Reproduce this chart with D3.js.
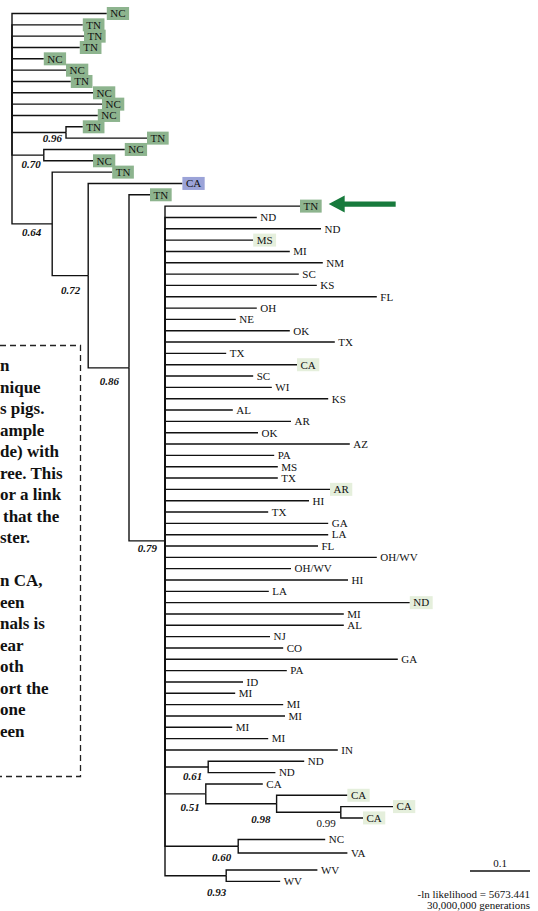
<!DOCTYPE html>
<html>
<head>
<meta charset="utf-8">
<script src="https://cdn.jsdelivr.net/npm/d3@7"></script>
<style>
  html, body { margin: 0; padding: 0; background: #fff; }
  svg { display: block; font-family: "Liberation Serif", "Times New Roman", serif; }
</style>
</head>
<body>
<svg id="chart" width="538" height="911"></svg>
<script>
// ---- Tree data (Newick pieces; branch lengths in substitutions/site, internal labels = posterior support)
const basalTips = "NC:0.158,TN:0.118,TN:0.12,TN:0.113,NC:0.053,NC:0.09,TN:0.098,NC:0.135,NC:0.15,NC:0.143";
const clade096 = "(TN:0.028,TN:0.135)0.96:0.09";
const clade070 = "(NC:0.135,NC:0.082)0.70:0.053";
const crownTipsA = "TN:0.225,ND:0.153,ND:0.26,MS:0.147,MI:0.208,NM:0.263,SC:0.223,KS:0.253,FL:0.353,OH:0.153,NE:0.118,OK:0.208";
const crownTipsB = "TX:0.283,TX:0.102,CA:0.22,SC:0.147,WI:0.178,KS:0.272,AL:0.113,AR:0.21,OK:0.155,AZ:0.308,PA:0.182,MS:0.188,TX:0.188,AR:0.275,HI:0.24";
const crownTipsC = "TX:0.172,GA:0.272,LA:0.272,FL:0.255,OH/WV:0.353,OH/WV:0.21,HI:0.305,LA:0.173,ND:0.408,MI:0.298,AL:0.298,NJ:0.175,CO:0.197,GA:0.388,PA:0.203,ID:0.13,MI:0.117";
const crownTipsD = "MI:0.197,MI:0.2,MI:0.112,MI:0.172,IN:0.288";
const clade061 = "(ND:0.16,ND:0.112)0.61:0.072";
const clade051 = "(CA:0.095,(CA:0.118,(CA:0.087,CA:0.037)0.99:0.107)0.98:0.118)0.51:0.068";
const clade060 = "(NC:0.145,VA:0.182)0.60:0.122";
const clade093 = "(WV:0.152,WV:0.09)0.93:0.102";
const clade079 = `(${crownTipsA},${crownTipsB},${crownTipsC},${crownTipsD},${clade061},${clade051},${clade060},${clade093})0.79:0.06`;
const newick = `(${basalTips},${clade096},${clade070},(TN:0.1,(CA:0.157,(TN:0.035,${clade079})0.86:0.068)0.72:0.06)0.64:0.067);`;

// Tip shading, by leaf order (top to bottom)
const darkTips = [0,1,2,3,4,5,6,7,8,9,10,11,12,13,14,16,17];
const blueTips = [15];
const paleTips = [20,31,42,52,69,70,71];
const arrowTip = 17;

// Note box text (left edge runs off the page)
const noteLines = ["n","nique","s pigs.","ample","de) with","ree. This","or a link"," that the","ster.","","n CA,","een","nals is","ear","oth","ort the","one","een"];

// Run summary
const scaleValue = 0.1;
const likelihoodText = "-ln likelihood = 5673.441";
const generationsText = "30,000,000 generations";

// ---- Layout
const rowStep = 11.33, topY = 13.5, rootX = 12, pxPerUnit = 600;
const rowGaps = {72: 0.9, 73: 0.2, 74: 0.5};
const supportNudge = {"0.96":[-4,9.5],"0.70":[-3,13],"0.64":[-11,12.5],"0.72":[-8,18],"0.86":[-10,17.5],
  "0.79":[-8,11],"0.61":[-6,13],"0.51":[-6,17],"0.98":[-6,19],"0.99":[-5,15],"0.60":[-7,15],"0.93":[0,20]};
const colors = {dark: "#8db48e", blue: "#9ba3d8", pale: "#e5efdc", arrow: "#177a3c", line: "#111"};

function parseNewick(s) {
  let i = 0;
  function node() {
    const n = {};
    if (s[i] === "(") {
      i++;
      n.children = [node()];
      while (s[i] === ",") { i++; n.children.push(node()); }
      i++;
    }
    let name = "";
    while (i < s.length && !":,();".includes(s[i])) name += s[i++];
    n.name = name;
    n.length = 0;
    if (s[i] === ":") {
      i++;
      let num = "";
      while (i < s.length && !",();".includes(s[i])) num += s[i++];
      n.length = +num;
    }
    return n;
  }
  return node();
}

const root = d3.hierarchy(parseNewick(newick));
root.eachBefore(d => { d.dist = (d.parent ? d.parent.dist : 0) + d.data.length; });

const leaves = root.leaves();
let rowAcc = 0;
leaves.forEach((d, i) => { rowAcc += (rowGaps[i] || 0); d.row = i + rowAcc; d.leafIndex = i; });
const maxRow = d3.max(leaves, d => d.row);
const maxDist = d3.max(leaves, d => d.dist);

const x = d3.scaleLinear().domain([0, maxDist]).range([rootX, rootX + maxDist * pxPerUnit]);
const y = d3.scaleLinear().domain([0, maxRow]).range([topY, topY + maxRow * rowStep]);

root.eachAfter(d => {
  if (d.children) {
    d.yPos = (d.children[0].yPos + d.children[d.children.length - 1].yPos) / 2;
  } else {
    d.yPos = y(d.row);
  }
});

const svg = d3.select("#chart");

// Note box
const note = svg.append("g");
note.append("rect")
  .attr("x", -10).attr("y", 345.5).attr("width", 90.5).attr("height", 431)
  .attr("fill", "none").attr("stroke", "#222").attr("stroke-width", 1.3)
  .attr("stroke-dasharray", "6,4");
note.selectAll("text").data(noteLines).join("text")
  .attr("x", (d) => d.startsWith(" ") ? 3 : 0)
  .attr("y", (d, i) => 371 + i * 21.5)
  .attr("font-size", 17).attr("font-weight", "bold").attr("fill", "#111")
  .text(d => d.trim());

// Branches (elbows)
svg.append("g")
  .selectAll("path")
  .data(root.descendants().filter(d => d.parent))
  .join("path")
  .attr("d", d => `M${x(d.parent.dist)},${d.parent.yPos}V${d.yPos}H${x(d.dist)}`)
  .attr("fill", "none").attr("stroke", colors.line).attr("stroke-width", 1.4);

// Tip labels
const shade = i => darkTips.includes(i) ? colors.dark : blueTips.includes(i) ? colors.blue : paleTips.includes(i) ? colors.pale : null;
const tipG = svg.append("g").selectAll("g").data(leaves).join("g")
  .attr("transform", d => `translate(${x(d.dist)},${d.yPos})`);
tipG.each(function (d) {
  const g = d3.select(this);
  const fill = shade(d.leafIndex);
  const rect = fill ? g.append("rect").attr("fill", fill) : null;
  const t = g.append("text").attr("x", 3.5).attr("y", 3.8).attr("font-size", 11).attr("fill", "#111").text(d.data.name);
  if (rect) {
    const w = t.node().getComputedTextLength();
    rect.attr("x", 0).attr("y", -6.5).attr("width", w + 7).attr("height", 13);
  }
  d.labelEnd = x(d.dist) + 3.5 + t.node().getComputedTextLength() + 3.5;
});

// Support values
svg.append("g").selectAll("text")
  .data(root.descendants().filter(d => d.children && d.data.name))
  .join("text")
  .attr("x", d => x(d.dist) + (supportNudge[d.data.name] || [-6, 15])[0])
  .attr("y", d => d.yPos + (supportNudge[d.data.name] || [-6, 15])[1])
  .attr("text-anchor", "end").attr("font-size", 11)
  .attr("font-weight", d => d.data.name === "0.99" ? "normal" : "bold")
  .attr("font-style", d => d.data.name === "0.99" ? "normal" : "italic")
  .attr("fill", "#111")
  .text(d => d.data.name);

// Arrow pointing at the highlighted tip
const at = leaves[arrowTip];
const ax = at.labelEnd + 7, ay = at.yPos - 2;
svg.append("path")
  .attr("d", `M${ax},${ay} L${ax + 16},${ay - 8.5} L${ax + 16},${ay - 2.6} L${ax + 67},${ay - 2.6} L${ax + 67},${ay + 2.6} L${ax + 16},${ay + 2.6} L${ax + 16},${ay + 8.5} Z`)
  .attr("fill", colors.arrow);

// Scale bar and run summary
const barRight = 530, barY = 871;
const barLen = x(scaleValue) - x(0);
svg.append("line")
  .attr("x1", barRight - barLen).attr("x2", barRight).attr("y1", barY).attr("y2", barY)
  .attr("stroke", colors.line).attr("stroke-width", 1.4);
svg.append("text").attr("x", barRight - barLen / 2).attr("y", barY - 4)
  .attr("text-anchor", "middle").attr("font-size", 11).attr("fill", "#111").text(scaleValue);
svg.append("text").attr("x", barRight).attr("y", 898)
  .attr("text-anchor", "end").attr("font-size", 11).attr("fill", "#111").text(likelihoodText);
svg.append("text").attr("x", barRight).attr("y", 909)
  .attr("text-anchor", "end").attr("font-size", 11).attr("fill", "#111").text(generationsText);
</script>
</body>
</html>
